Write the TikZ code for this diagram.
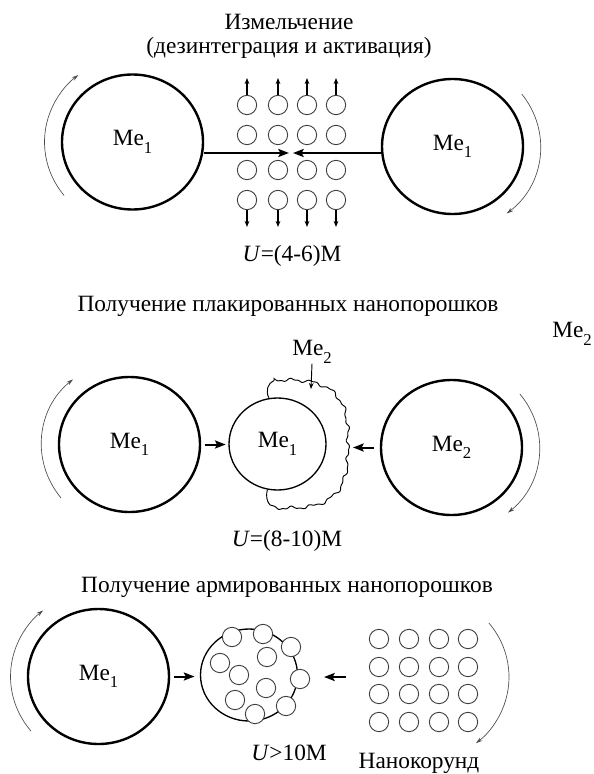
\documentclass[tikz,border=0pt]{standalone}
\usepackage{fontspec}
\setmainfont{Liberation Serif}
\usetikzlibrary{shapes.geometric,arrows.meta,calc}
% lowered index, as in Me_1
\newcommand{\lowsub}[1]{\raisebox{-0.32em}{\fontsize{12.5}{13}\selectfont #1}}
\begin{document}
\begin{tikzpicture}[x=0.75pt,y=-0.75pt,
  font=\fontsize{17.5}{20}\selectfont,
  declare function={
    sq(\t)=66/pow(pow(abs(cos(\t)),3)+pow(1.031*abs(sin(\t)),3),1/3);
    wob(\t)=1.3*sin(21*\t)+0.7*sin(47*\t+30);
  },
  roller/.style={ellipse, draw, line width=1.8pt, minimum width=105.75pt,
    minimum height=101.25pt, inner sep=0pt},
  core/.style={ellipse, draw, line width=1pt, minimum width=72.75pt,
    minimum height=69pt, inner sep=0pt},
  grain/.style={circle, draw=black!75, line width=0.7pt, minimum size=14.5pt,
    inner sep=0pt},
  bead/.style={grain, fill=white},
  push/.style={line width=1.5pt, -{Stealth[length=8pt,width=6pt,inset=1.5pt]}},
  fly/.style={line width=0.9pt, -{Stealth[length=4.5pt,width=3.5pt]}},
  spin/.style={draw=black!70, line width=0.5pt, -{Stealth[length=5pt,width=3pt]}},
  caption/.style={inner sep=0pt}]
\useasboundingbox (0,0) rectangle (593,774);

% ---------- Stage 1: milling ----------
\node[caption] (t1a) at (289,22) {Измельчение};
\node[caption] (t1b) at (289,48) {(дезинтеграция и активация)};

\node[roller] (L1) at (132.5,142) {Me\lowsub{1}};
\node[roller] (R1) at (452.5,146.5) {Me\lowsub{1}};
\draw[spin] ($(L1.center)+(-219:88 and 85)$) arc[start angle=-219,end angle=-128,x radius=88,y radius=85];
\draw[spin] ($(R1.center)+(-38:88 and 85)$) arc[start angle=-38,end angle=52,x radius=88,y radius=85];

\foreach \c/\x in {1/247,2/278,3/307,4/336}{
  \foreach \r/\y in {1/105,2/135,3/170,4/200}
    \node[grain] (a\c\r) at (\x,\y) {};
  \coordinate (up\c) at (\x,78);
  \coordinate (dn\c) at (\x,227);
  \draw[fly] (a\c1.north) -- (up\c);
  \draw[fly] (a\c4.south) -- (dn\c);
}
\coordinate (nipL) at (289,153);
\coordinate (nipR) at (293,153);
\draw[push] (L1.east |- nipL) -- (nipL);
\draw[push] (R1.west |- nipR) -- (nipR);

\node[caption] (u1) at (292,256) {\textit{U}=(4-6)M};

% ---------- Stage 2: clad powders ----------
\node[caption] (t2) at (288,306) {Получение плакированных нанопорошков};
\node[caption] (me2float) at (572,334) {Me\lowsub{2}};

\node[roller] (L2) at (129.5,444.5) {Me\lowsub{1}};
\node[roller] (R2) at (451.5,447.5) {Me\lowsub{2}};
\draw[spin] ($(L2.center)+(-219:88 and 85)$) arc[start angle=-219,end angle=-130,x radius=88,y radius=85];
\draw[spin] ($(R2.center)+(-39:88 and 85)$) arc[start angle=-39,end angle=50,x radius=88,y radius=85];

% wavy Me2 shell around the right half of the core
\draw[line width=0.7pt] (269,398) .. controls (265,391) and (268,383) .. (274,380.5)
  -- plot[domain=-97:97, samples=190, smooth]
     ({282+(sq(\x)+wob(\x))*cos(\x)}, {444+(sq(\x)+wob(\x))*sin(\x)})
  .. controls (268,507) and (265,497) .. (267.5,489.5);
\node[core, fill=white] (M2) at (277.5,444) {Me\lowsub{1}};

\node[caption] (me2lab) at (312,352) {Me\lowsub{2}};
\coordinate (shellTop) at (311,389);
\draw[fly, line width=0.7pt] (me2lab.south) -- (shellTop);

\draw[push, shorten <=2.5pt, shorten >=2pt] (L2.east) -- (M2.west |- L2.east);
\coordinate (shellR) at (353,447.5);
\draw[push, shorten <=4.5pt] (R2.west) -- (shellR);

\node[caption] (u2) at (287,541) {\textit{U}=(8-10)M};

% ---------- Stage 3: reinforced powders ----------
\node[caption] (t3) at (287,587) {Получение армированных нанопорошков};

\node[roller] (L3) at (98.5,676.5) {Me\lowsub{1}};
\draw[spin] ($(L3.center)+(-220:88 and 85)$) arc[start angle=-220,end angle=-129,x radius=88,y radius=85];
\coordinate (R3c) at (423,677);
\draw[spin] ($(R3c)+(-40:86 and 84)$) arc[start angle=-40,end angle=52,x radius=86,y radius=84];

\node[core] (M3) at (249,675) {};
\foreach \n/\p in {1/{232,637},2/{263,634},3/{291,647},4/{300,679},5/{286,706},
                   6/{255,714},7/{220,663},8/{239,675},9/{267,657},10/{266,688},11/{235,700}}
  \node[bead] (b\n) at (\p) {};

\foreach \c/\x in {1/379,2/409,3/439,4/468}
  \foreach \r/\y in {1/639,2/667,3/694,4/722}
    \node[grain] (g\c\r) at (\x,\y) {};

\draw[push, shorten <=3pt, shorten >=4pt] (L3.east) -- (M3.west |- L3.east);
\coordinate (gridL) at (346,677);
\coordinate (coreR) at (324,677);
\draw[push] (gridL) -- (coreR);

\node[caption] (u3) at (289,753) {\textit{U}>10M};
\node[caption] (nk) at (419,763) {Нанокорунд};
\end{tikzpicture}
\end{document}
